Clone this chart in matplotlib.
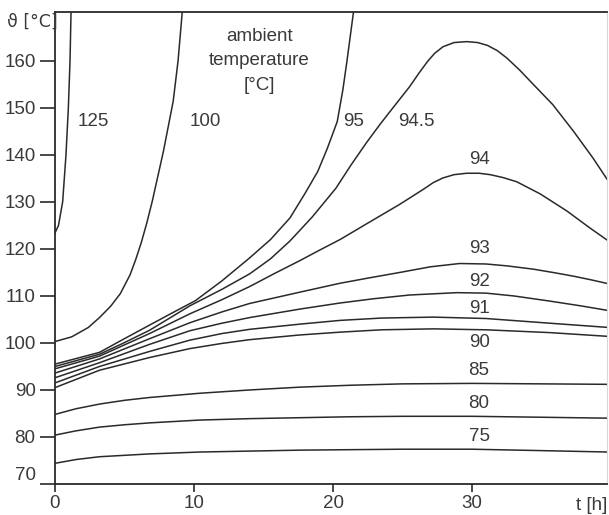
import matplotlib
matplotlib.use("Agg")
import matplotlib.pyplot as plt

plt.rcParams['font.family'] = ['Liberation Sans Narrow', 'Liberation Sans', 'DejaVu Sans']

# ambient temperature curves: time [h] and winding temperature [deg C]
t_125 = [0, 0.25, 0.55, 0.79, 0.96, 1.08, 1.15, 1.2]
T_125 = [123.4, 125.0, 130.0, 140.0, 150.0, 160.0, 170.0, 176.0]

t_100 = [0, 1.2, 2.4, 3.2, 4.0, 4.7, 5.4, 5.8, 6.2, 6.6, 7.0, 7.8, 8.5, 8.85, 9.14, 9.4]
T_100 = [100.3, 101.3, 103.3, 105.4, 107.8, 110.5, 114.5, 117.7, 121.3, 125.5, 130.2, 140.8, 151.4,
         160.0, 170.0, 177.0]

t_95 = [0, 3.2, 4.8, 6.8, 8.5, 10.1, 12.0, 14.0, 15.5, 16.9, 18.0, 18.9, 19.6, 20.3, 20.7, 21.0,
        21.45, 21.7]
T_95 = [95.5, 98.0, 100.6, 103.8, 106.5, 109.0, 113.2, 118.1, 122.0, 126.6, 131.9, 136.5, 141.5,
        147.1, 153.8, 160.0, 170.0, 176.0]

t_945 = [0, 3.2, 4.8, 6.8, 9.7, 12.0, 14.0, 15.5, 16.9, 18.5, 20.2, 21.3, 22.4, 23.4, 24.3, 25.5,
         26.2, 26.8, 27.3, 27.9, 28.7, 29.6, 30.4, 31.1, 31.8, 32.5, 33.4, 34.4, 35.8, 37.3, 38.7, 39.8]
T_945 = [95.0, 97.6, 99.8, 102.7, 107.9, 111.4, 114.7, 117.9, 121.7, 126.8, 132.9, 137.9, 142.6,
         146.6, 150.0, 154.5, 157.5, 159.9, 161.6, 163.0, 163.9, 164.1, 163.9, 163.3, 162.2, 160.6,
         158.1, 155.0, 150.7, 145.0, 139.3, 134.4]

t_94 = [0, 3.2, 6.8, 9.7, 12.0, 14.0, 15.8, 17.6, 19.0, 20.5, 22.5, 24.8, 26.5, 27.2, 27.9, 28.7,
        29.6, 30.5, 31.3, 32.2, 33.2, 34.9, 36.8, 38.5, 39.8]
T_94 = [94.5, 97.2, 102.0, 106.2, 109.2, 112.0, 114.8, 117.5, 119.7, 122.0, 125.5, 129.5, 132.7,
        134.1, 135.1, 135.8, 136.1, 136.1, 135.8, 135.2, 134.3, 131.7, 128.1, 124.4, 121.7]

t_93 = [0, 3.2, 6.8, 9.7, 12.0, 14.0, 17.6, 20.5, 22.7, 24.8, 27.0, 29.1, 31.0, 32.5, 34.4, 36.0,
        37.3, 38.6, 39.8]
T_93 = [93.6, 96.6, 100.9, 104.3, 106.6, 108.4, 110.8, 112.7, 113.9, 115.0, 116.2, 116.9, 116.8,
        116.4, 115.7, 114.9, 114.2, 113.4, 112.6]

t_92 = [0, 3.2, 6.8, 9.7, 12.0, 14.0, 17.6, 20.5, 22.9, 25.5, 28.9, 31.0, 33.0, 35.6, 37.8, 39.8]
T_92 = [92.6, 95.8, 99.7, 102.6, 104.2, 105.4, 107.2, 108.5, 109.4, 110.2, 110.7, 110.6, 110.0,
        108.9, 107.9, 106.9]

t_91 = [0, 3.2, 6.8, 9.7, 12.0, 14.0, 17.6, 20.5, 23.5, 27.2, 31.0, 35.6, 39.8]
T_91 = [91.5, 95.0, 98.2, 100.6, 102.0, 102.9, 104.0, 104.8, 105.3, 105.5, 105.2, 104.2, 103.3]

t_90 = [0, 3.2, 6.8, 9.7, 12.0, 14.0, 17.6, 20.5, 23.5, 27.2, 31.0, 35.6, 39.8]
T_90 = [90.5, 94.2, 96.9, 98.8, 99.9, 100.7, 101.7, 102.3, 102.8, 103.0, 102.8, 102.2, 101.4]

t_low = [0, 1.5, 3.2, 5.0, 6.8, 10.4, 14.0, 17.6, 21.2, 25.0, 30.0, 35.0, 39.8]
T_85 = [84.8, 86.0, 87.0, 87.8, 88.4, 89.3, 90.0, 90.6, 91.0, 91.3, 91.4, 91.3, 91.2]
T_80 = [80.4, 81.3, 82.1, 82.6, 83.0, 83.6, 83.9, 84.1, 84.3, 84.4, 84.4, 84.2, 84.0]
T_75 = [74.4, 75.2, 75.8, 76.1, 76.4, 76.8, 77.0, 77.2, 77.3, 77.4, 77.4, 77.1, 76.8]

curves = [(t_125, T_125), (t_100, T_100), (t_95, T_95), (t_945, T_945), (t_94, T_94),
          (t_93, T_93), (t_92, T_92), (t_91, T_91), (t_90, T_90),
          (t_low, T_85), (t_low, T_80), (t_low, T_75)]

# labels for the upper curves (left aligned, same height) and the stacked ones
top_labels = ['125', '100', '95', '94.5']
top_label_t = [1.65, 9.7, 20.7, 24.7]
stack_labels = ['94', '93', '92', '91', '90', '85', '80', '75']
stack_label_T = [139.0, 120.0, 113.0, 107.3, 100.2, 94.2, 87.2, 80.0]

ink = '#2a2a2a'
txt = '#3a3a3a'

fig = plt.figure(figsize=(6.09, 5.15), dpi=100)
ax = fig.add_axes([55 / 609, 31 / 515, 552 / 609, 472 / 515])

for t, T in curves:
    ax.plot(t, T, color=ink, lw=1.1, solid_joinstyle='round')

for lab, tx in zip(top_labels, top_label_t):
    ax.text(tx, 147.1, lab, ha='left', va='center', fontsize=13.5, color=txt)
for lab, ty in zip(stack_labels, stack_label_T):
    ax.text(30.5, ty, lab, ha='center', va='center', fontsize=13.5, color=txt)

ax.text(14.7, 160.0, 'ambient\ntemperature\n[°C]', ha='center', va='center',
        fontsize=13.5, color=txt, linespacing=1.55)

ax.set_xlim(0, 39.7)
ax.set_ylim(70, 170.4)
ax.set_xticks([0, 10, 20, 30])
ax.set_yticks(range(70, 161, 10))

ax.tick_params(axis='y', direction='out', length=11, width=1.2, pad=3,
               labelsize=13.5, colors=ink, labelcolor=txt)
ax.tick_params(axis='x', direction='out', length=6, width=1.2, pad=2,
               labelsize=13.5, colors=ink, labelcolor=txt)
for s in ['left', 'bottom', 'top']:
    ax.spines[s].set_color(ink)
    ax.spines[s].set_linewidth(1.3)
ax.spines['right'].set_color('#d8d8d8')
ax.spines['right'].set_linewidth(0.8)

# the 70 label sits above the axis line in the original
ax.get_yticklabels()[0].set_va('bottom')

fig.text(7 / 609, 1 - 22 / 515, 'ϑ [°C]', ha='left', va='center', fontsize=12.5,
         color=txt, family=['Liberation Sans Narrow', 'DejaVu Sans'])
fig.text(607 / 609, 1 - 505 / 515, 't [h]', ha='right', va='center', fontsize=13.5, color=txt)

fig.savefig('out.png', dpi=100)
